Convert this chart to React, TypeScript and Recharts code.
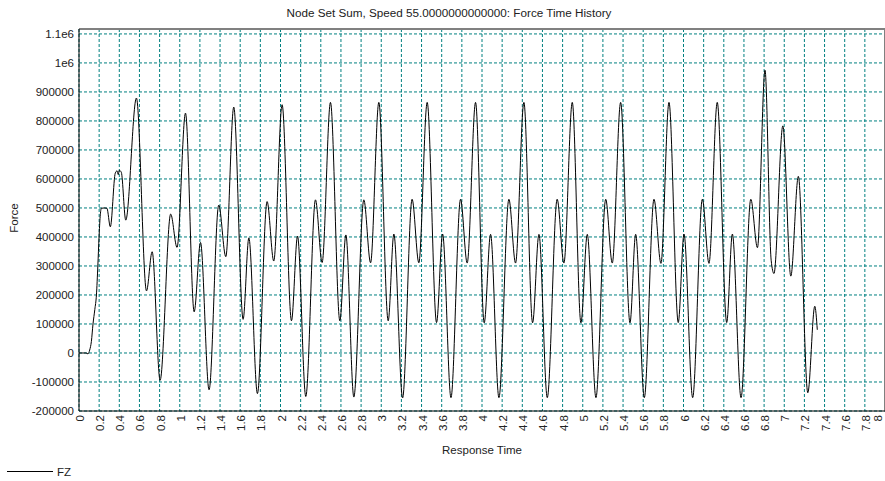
import { CartesianGrid, Label, Line, LineChart, ReferenceLine, XAxis, YAxis } from 'recharts';

const FONT = '"Liberation Sans", Arial, sans-serif';

// time (s) and FZ force
const times = [
  0, 0.07, 0.089, 0.106, 0.123, 0.139, 0.157, 0.173, 0.187, 0.199, 0.21, 0.222, 0.25, 0.277,
  0.311, 0.36, 0.378, 0.39, 0.4, 0.42, 0.464, 0.57, 0.67, 0.726, 0.805, 0.91, 0.973, 1.057,
  1.143, 1.206, 1.291, 1.387, 1.457, 1.536, 1.629, 1.686, 1.771, 1.867, 1.933, 2.016, 2.109,
  2.169, 2.251, 2.347, 2.413, 2.496, 2.589, 2.649, 2.728, 2.827, 2.894, 2.976, 3.069, 3.125,
  3.212, 3.306, 3.373, 3.456, 3.549, 3.609, 3.692, 3.787, 3.853, 3.936, 4.022, 4.085, 4.168,
  4.267, 4.333, 4.416, 4.502, 4.565, 4.648, 4.746, 4.813, 4.896, 4.982, 5.045, 5.131, 5.228,
  5.293, 5.376, 5.469, 5.525, 5.611, 5.707, 5.776, 5.856, 5.948, 6.005, 6.091, 6.187, 6.253,
  6.335, 6.429, 6.485, 6.571, 6.668, 6.734, 6.809, 6.87, 6.898, 6.986, 7.065, 7.14, 7.234,
  7.303, 7.328,
];

const fz = [
  0, 0, -3000, 10000, 40000, 100000, 150000, 200000, 300000, 400000, 470000, 499000, 500000, 499000,
  435000, 620000, 628000, 615000, 630000, 623000, 458000, 879000, 214000, 349000, -94000, 479000, 364000, 827000,
  142000, 381000, -127000, 510000, 332000, 848000, 116000, 397000, -140000, 522000, 317000, 856000, 111000,
  403000, -150000, 528000, 312000, 864000, 111000, 407000, -152000, 528000, 311000, 864000, 111000, 410000,
  -155000, 530000, 311000, 864000, 105000, 410000, -154000, 530000, 310000, 864000, 104000, 409000, -154000,
  530000, 310000, 864000, 104000, 409000, -154000, 530000, 310000, 864000, 104000, 409000, -154000, 530000,
  310000, 864000, 104000, 409000, -154000, 530000, 309000, 864000, 105000, 410000, -154000, 530000, 309000,
  864000, 105000, 410000, -154000, 530000, 363000, 975000, 320000, 274000, 783000, 265000, 609000, -137000,
  161000, 80000,
];

const xTicks = [
  0, 0.2, 0.4, 0.6, 0.8, 1, 1.2, 1.4, 1.6, 1.8, 2, 2.2, 2.4, 2.6, 2.8, 3, 3.2, 3.4, 3.6, 3.8, 4,
  4.2, 4.4, 4.6, 4.8, 5, 5.2, 5.4, 5.6, 5.8, 6, 6.2, 6.4, 6.6, 6.8, 7, 7.2, 7.4, 7.6, 7.8, 8,
];

const yTicks = [
  -200000, -100000, 0, 100000, 200000, 300000, 400000, 500000, 600000, 700000, 800000, 900000,
  1000000, 1100000,
];

const data = times.map((t, i) => ({ t, fz: fz[i] }));

const fmtY = (v: number) => (v >= 1000000 ? `${v / 1000000}e6` : String(v));

const renderXTick = ({ x, y, payload }: any) => {
  // last label is pushed inside the edge like in the original
  const px = Math.min(x, 877);
  return (
    <g transform={`translate(${px},${y})`}>
      <text transform="rotate(-90)" textAnchor="end" dy={5} fontSize={11.5} fontFamily={FONT} fill="#222">
        {String(Math.round(payload.value * 10) / 10)}
      </text>
    </g>
  );
};

const renderYTick = ({ x, y, payload }: any) => (
  <text x={x} y={y} dy={4} textAnchor="end" fontSize={11.5} fontFamily={FONT} fill="#222">
    {fmtY(payload.value)}
  </text>
);

const renderXLabel = ({ viewBox }: any) => (
  <text
    x={viewBox.x + viewBox.width / 2}
    y={viewBox.y + 43}
    textAnchor="middle"
    fontSize={11.5}
    fontFamily={FONT}
    fill="#222"
  >
    Response Time
  </text>
);

const renderYLabel = ({ viewBox }: any) => {
  const cx = 17.5;
  const cy = viewBox.y + viewBox.height / 2 - 2;
  return (
    <text
      x={cx}
      y={cy}
      transform={`rotate(-90, ${cx}, ${cy})`}
      textAnchor="middle"
      fontSize={11.5}
      fontFamily={FONT}
      fill="#222"
    >
      Force
    </text>
  );
};

export default function App() {
  return (
    <div style={{ position: 'relative', width: 885, height: 481, background: '#fff' }}>
      <style>{'body{margin:0}'}</style>
      <LineChart width={885} height={481} data={data} margin={{ top: 29, right: 0, bottom: 0, left: 0 }}>
        <CartesianGrid stroke="#008080" strokeDasharray="3 2" />
        <XAxis
          dataKey="t"
          type="number"
          domain={[0, 8]}
          ticks={xTicks}
          interval={0}
          height={70}
          tickSize={0}
          tickMargin={4}
          tick={renderXTick}
          axisLine={{ stroke: '#000' }}
          tickLine={false}
        >
          <Label content={renderXLabel} />
        </XAxis>
        <YAxis
          type="number"
          domain={[-200000, 1117000]}
          ticks={yTicks}
          interval={0}
          width={79}
          tickSize={0}
          tickMargin={5}
          tick={renderYTick}
          axisLine={{ stroke: '#000' }}
          tickLine={false}
        >
          <Label content={renderYLabel} />
        </YAxis>
        <ReferenceLine y={1117000} stroke="#808080" strokeWidth={2} />
        <ReferenceLine x={8} stroke="#808080" strokeWidth={2} />
        <Line
          type="monotone"
          dataKey="fz"
          name="FZ"
          stroke="#000"
          strokeWidth={1}
          dot={false}
          isAnimationActive={false}
        />
      </LineChart>
      <svg
        width={885}
        height={481}
        style={{ position: 'absolute', left: 0, top: 0, pointerEvents: 'none' }}
      >
        <text x={449} y={17} textAnchor="middle" fontSize={11.7} fontFamily={FONT} fill="#222">
          Node Set Sum, Speed 55.0000000000000: Force Time History
        </text>
        <line x1={7} y1={471.5} x2={53} y2={471.5} stroke="#000" strokeWidth={1} />
        <text x={57} y={476} fontSize={11.5} fontFamily={FONT} fill="#222">
          FZ
        </text>
      </svg>
    </div>
  );
}
